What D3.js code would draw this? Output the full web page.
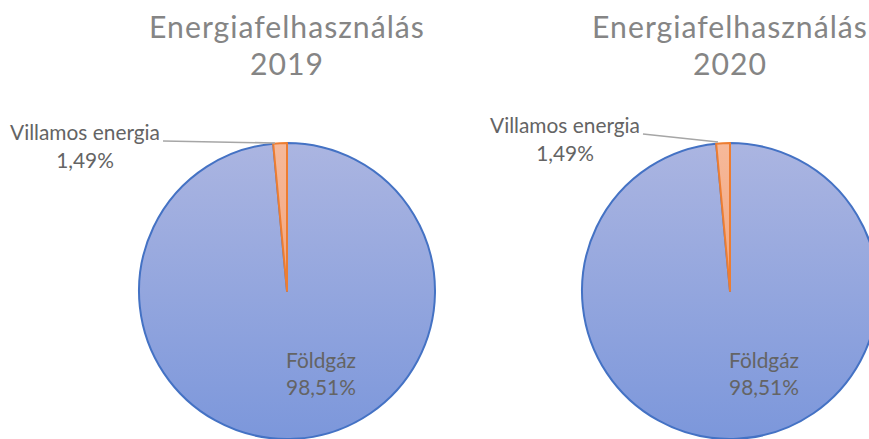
<!DOCTYPE html>
<html>
<head>
<meta charset="utf-8">
<script src="https://cdn.jsdelivr.net/npm/d3@7"></script>
<style>
  body { margin: 0; background: #fff; }
  svg { display: block; }
  text { font-family: Lato, "Open Sans", sans-serif; }
  .title { fill: #858585; }
  .label { fill: #646464; }
</style>
</head>
<body>
<div id="chart"></div>
<script>
var categories = ['Földgáz', 'Villamos energia'];
var years = ['2019', '2020'];
var values2019 = [98.51, 1.49];
var values2020 = [98.51, 1.49];
var titleText = 'Energiafelhasználás';

var width = 869;
var height = 439;

var svg = d3.select('#chart')
  .append('svg')
  .attr('width', width)
  .attr('height', height);

var defs = svg.append('defs');
var blue = defs.append('linearGradient')
  .attr('id', 'blueGrad')
  .attr('x1', 0).attr('y1', 0).attr('x2', 0).attr('y2', 1);
blue.append('stop').attr('offset', '0%').attr('stop-color', '#abb5e1');
blue.append('stop').attr('offset', '100%').attr('stop-color', '#7c97db');

var orange = defs.append('linearGradient')
  .attr('id', 'orangeGrad')
  .attr('x1', 0).attr('y1', 0).attr('x2', 0).attr('y2', 1);
orange.append('stop').attr('offset', '0%').attr('stop-color', '#f6b99a');
orange.append('stop').attr('offset', '100%').attr('stop-color', '#f3a57e');

var fills = ['url(#blueGrad)', 'url(#orangeGrad)'];
var strokes = ['#4472c4', '#ed7d31'];

var pie = d3.pie().sort(null).value(function (d) { return d; });
var radius = 148;
var arc = d3.arc().innerRadius(0).outerRadius(radius);

// one panel per year
var panels = [
  { year: years[0], values: values2019, cx: 287, cy: 291, labelX: 85, labelY: 140, lineEnd: [275, 143] },
  { year: years[1], values: values2020, cx: 730, cy: 291, labelX: 565, labelY: 133, lineEnd: [718, 142] }
];

function fitText (sel, target) {
  var w = sel.node().getComputedTextLength();
  var fs = parseFloat(sel.attr('font-size'));
  sel.attr('font-size', fs * target / w);
}

panels.forEach(function (p) {
  var g = svg.append('g')
    .attr('transform', 'translate(' + p.cx + ',' + p.cy + ')');

  g.selectAll('path')
    .data(pie(p.values))
    .enter()
    .append('path')
    .attr('d', arc)
    .attr('fill', function (d, i) { return fills[i]; })
    .attr('stroke', function (d, i) { return strokes[i]; })
    .attr('stroke-width', 2)
    .attr('stroke-linejoin', 'round');

  // title
  var t1 = svg.append('text')
    .attr('class', 'title')
    .attr('x', p.cx)
    .attr('y', 38)
    .attr('text-anchor', 'middle')
    .attr('font-size', 30)
    .attr('letter-spacing', 1)
    .text(titleText);
  fitText(t1, 276);

  svg.append('text')
    .attr('class', 'title')
    .attr('x', p.cx)
    .attr('y', 75)
    .attr('text-anchor', 'middle')
    .attr('font-size', t1.attr('font-size'))
    .attr('letter-spacing', 1)
    .text(p.year);

  var total = d3.sum(p.values);
  function pct (v) {
    return (v / total * 100).toFixed(2).replace('.', ',') + '%';
  }

  // outside label for small slice
  var lab = svg.append('text')
    .attr('class', 'label')
    .attr('x', p.labelX)
    .attr('y', p.labelY)
    .attr('text-anchor', 'middle')
    .attr('font-size', 19)
    .text(categories[1]);
  fitText(lab, 150);

  svg.append('text')
    .attr('class', 'label')
    .attr('x', p.labelX)
    .attr('y', p.labelY + 28)
    .attr('text-anchor', 'middle')
    .attr('font-size', lab.attr('font-size'))
    .text(pct(p.values[1]));

  svg.append('line')
    .attr('x1', p.labelX + 78)
    .attr('y1', p.labelY + 1)
    .attr('x2', p.lineEnd[0])
    .attr('y2', p.lineEnd[1])
    .attr('stroke', '#a6a6a6')
    .attr('stroke-width', 1.5);

  // inside label
  svg.append('text')
    .attr('class', 'label')
    .attr('x', p.cx + 34)
    .attr('y', 368)
    .attr('text-anchor', 'middle')
    .attr('font-size', lab.attr('font-size'))
    .text(categories[0]);

  svg.append('text')
    .attr('class', 'label')
    .attr('x', p.cx + 34)
    .attr('y', 395)
    .attr('text-anchor', 'middle')
    .attr('font-size', lab.attr('font-size'))
    .text(pct(p.values[0]));
});
</script>
</body>
</html>
